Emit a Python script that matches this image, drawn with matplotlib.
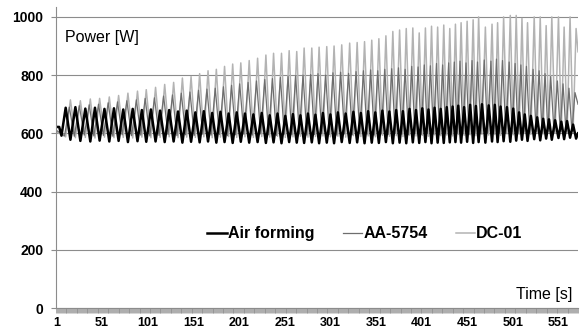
import numpy as np
import matplotlib
matplotlib.use("Agg")
import matplotlib.pyplot as plt
from matplotlib.ticker import FixedLocator

plt.rcParams['font.family'] = ['Liberation Sans', 'DejaVu Sans']

# times [s] of the DC-01 peaks
cycle_t = [16.3, 27.2, 38.1, 48.3, 58.9, 69.1, 79.3, 89.8, 99.4, 109.6,
           119.6, 129.4, 139.0, 148.5, 157.9, 167.1, 176.2, 185.2, 194.1, 203.0,
           212.2, 221.4, 230.5, 238.9, 247.6, 256.0, 264.3, 272.4, 280.8, 288.8,
           297.2, 305.2, 313.6, 322.3, 330.5, 338.6, 346.5, 354.3, 362.0, 369.6,
           377.0, 384.3, 391.5, 398.5, 405.3, 412.0, 418.7, 425.4, 432.0, 438.2,
           444.4, 451.0, 457.6, 463.6, 471.0, 478.3, 484.4, 491.0, 498.3, 504.8,
           511.1, 517.2, 524.5, 531.1, 537.6, 543.8, 551.1, 557.3, 563.8, 570.4]
first_period = 10.4
aa_lead = 1.2   # AA-5754 peaks come a little before DC-01

# DC-01 (light grey) peaks / troughs [W]
dc_hi = [715, 712, 718, 720, 725, 730, 738, 745, 750, 758,
         768, 775, 790, 795, 805, 815, 820, 830, 838, 842,
         850, 858, 869, 875, 875, 884, 881, 893, 893, 896,
         898, 900, 904, 910, 912, 915, 920, 925, 935, 950,
         955, 960, 962, 945, 962, 968, 965, 972, 960, 975,
         980, 985, 990, 1000, 965, 975, 980, 1000, 1005, 1005,
         995, 980, 1000, 1000, 970, 1000, 1000, 965, 1000, 960]
dc_lo = [588, 585, 586, 584, 587, 585, 586, 584, 587, 585,
         586, 588, 585, 587, 586, 588, 585, 587, 589, 586,
         588, 586, 589, 587, 590, 586, 588, 590, 587, 589,
         591, 588, 590, 587, 592, 589, 591, 588, 593, 590,
         592, 589, 594, 591, 593, 590, 595, 592, 594, 591,
         596, 593, 595, 592, 597, 594, 596, 593, 598, 595,
         597, 600, 596, 602, 598, 604, 600, 606, 602, 605]

# AA-5754 (dark grey)
aa_hi = [690, 695, 698, 700, 705, 708, 712, 715, 720, 722,
         728, 732, 738, 742, 748, 752, 755, 760, 765, 770,
         775, 780, 785, 788, 792, 795, 798, 800, 802, 805,
         800, 808, 810, 806, 812, 815, 818, 815, 820, 822,
         825, 820, 830, 828, 835, 832, 840, 835, 842, 845,
         848, 842, 850, 845, 852, 848, 855, 850, 845, 840,
         835, 830, 820, 815, 805, 795, 780, 770, 755, 740]
aa_lo = [592, 590, 594, 591, 593, 590, 595, 592, 594, 591,
         593, 596, 592, 595, 593, 597, 594, 596, 592, 595,
         597, 594, 598, 595, 593, 597, 595, 598, 594, 596,
         599, 596, 594, 598, 595, 599, 597, 594, 598, 596,
         600, 597, 595, 599, 596, 600, 598, 595, 599, 597,
         601, 598, 596, 600, 598, 602, 599, 603, 600, 604,
         601, 605, 602, 606, 603, 607, 604, 608, 605, 606]

# Air forming (black), peaks sit in the DC-01 troughs
air_hi = [688, 690, 685, 688, 684, 686, 682, 684, 680, 682,
          678, 680, 675, 678, 672, 676, 670, 674, 668, 672,
          668, 665, 670, 662, 668, 660, 666, 662, 668, 664,
          670, 665, 672, 668, 674, 670, 676, 672, 678, 675,
          680, 676, 684, 680, 686, 682, 688, 684, 690, 692,
          695, 690, 698, 694, 700, 696, 698, 692, 690, 685,
          672, 665, 660, 655, 650, 648, 645, 640, 642, 630]
air_lo = [578, 574, 572, 575, 572, 574, 570, 573, 571, 572,
          570, 572, 568, 571, 569, 572, 568, 570, 567, 571,
          568, 570, 567, 569, 566, 570, 568, 567, 569, 566,
          568, 566, 570, 567, 569, 566, 568, 567, 570, 566,
          568, 566, 569, 567, 570, 566, 568, 567, 569, 570,
          568, 571, 567, 570, 568, 572, 570, 573, 571, 575,
          578, 574, 580, 576, 582, 578, 584, 580, 585, 582]

# start / end of each record
air_start_t, air_start = [1, 4, 6.5], [622, 622, 592]
aa_start_t, aa_start = [1], [610]
dc_start_t, dc_start = [1], [605]
end_t = 572.5
air_end, aa_end, dc_end = 600, 700, 880

xticks = list(range(1, 552, 50))
yticks = [0, 200, 400, 600, 800, 1000]


def build(t0, v0, ta, va, tb, vb, t_end, v_end):
    t = list(t0)
    v = list(v0)
    for i in range(len(ta)):
        t += [ta[i], tb[i]]
        v += [va[i], vb[i]]
    t.append(t_end)
    v.append(v_end)
    return t, v


ct = np.array(cycle_t)
prev = np.r_[ct[0] - first_period, ct[:-1]]
half_t = (prev + ct) / 2

dc_x, dc_y = build(dc_start_t, dc_start, half_t, dc_lo, ct, dc_hi, end_t, dc_end)
aa_x, aa_y = build(aa_start_t, aa_start, half_t - aa_lead, aa_lo, ct - aa_lead, aa_hi, end_t, aa_end)
air_x, air_y = build(air_start_t, air_start, half_t, air_hi, ct, air_lo, end_t, air_end)

fig = plt.figure(figsize=(5.82, 3.33), dpi=100)
ax = fig.add_axes([56/582, 25/333, 522/582, 301/333])

ax.plot(dc_x, dc_y, color='#b3b3b3', lw=1.1)
ax.plot(aa_x, aa_y, color='#6e6e6e', lw=0.9)
ax.plot(air_x, air_y, color='black', lw=1.8)

ax.set_xlim(0.5, 572.5)
ax.set_ylim(0, 1034)
ax.set_yticks(yticks)
ax.set_xticks(xticks)
ax.xaxis.set_minor_locator(FixedLocator(range(1, 573)))
ax.yaxis.grid(True, color='#8c8c8c', lw=0.8)
ax.set_axisbelow(True)

for s in ['top', 'right']:
    ax.spines[s].set_visible(False)
for s in ['left', 'bottom']:
    ax.spines[s].set_color('#8c8c8c')
    ax.spines[s].set_linewidth(0.8)

ax.tick_params(axis='y', colors='#8c8c8c', length=3.6, width=0.8, pad=5.5,
               labelcolor='black', labelsize=10)
ax.tick_params(axis='x', which='both', colors='#8c8c8c', length=3.4, width=0.5, pad=3,
               labelcolor='black', labelsize=9)
for lab in ax.get_xticklabels() + ax.get_yticklabels():
    lab.set_fontweight('bold')

ax.text(0.017, 0.90, 'Power [W]', transform=ax.transAxes, fontsize=11.5,
        ha='left', va='center')
ax.text(0.99, 0.046, 'Time [s]', transform=ax.transAxes, fontsize=11.5,
        ha='right', va='center')

h1, = ax.plot([], [], color='black', lw=1.8)
h2, = ax.plot([], [], color='#6e6e6e', lw=0.9)
h3, = ax.plot([], [], color='#b3b3b3', lw=1.1)
ax.legend([h1, h2, h3], ['Air forming', 'AA-5754', 'DC-01'], ncol=3,
          loc='center left', bbox_to_anchor=(0.29, 0.246), frameon=False,
          handlelength=1.2, handletextpad=0.1, columnspacing=1.75,
          borderpad=0, borderaxespad=0,
          prop={'weight': 'bold', 'size': 11.5})

fig.savefig('out.png', dpi=100)
